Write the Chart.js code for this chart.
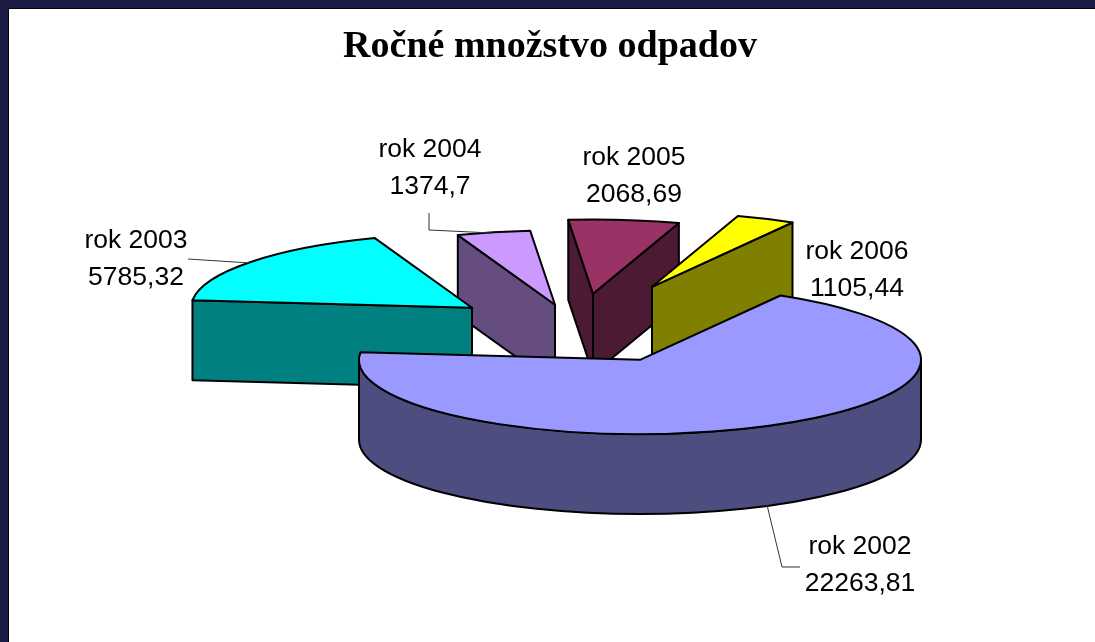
<!DOCTYPE html>
<html>
<head>
<meta charset="utf-8">
<title>Ročné množstvo odpadov</title>
<script src="https://cdn.jsdelivr.net/npm/chart.js@4"></script>
<style>
  html, body { margin: 0; padding: 0; width: 1095px; height: 642px; overflow: hidden; background: #1c1c44; }
  #sheet { position: absolute; left: 8px; top: 8px; right: 0; bottom: 0; background: #fff; border-left: 1px solid #000; border-top: 1px solid #000; }
  #wastePie { position: absolute; left: 0; top: 0; }
</style>
</head>
<body>
<div id="sheet"></div>
<canvas id="wastePie" width="1095" height="642"></canvas>
<script>
const titleText = "Ročné množstvo odpadov";
const categories = ["rok 2002", "rok 2003", "rok 2004", "rok 2005", "rok 2006"];
const wasteValues = [22263.81, 5785.32, 1374.7, 2068.69, 1105.44];

// colours of the top faces and the side walls
const topColors = ["#9999ff", "#00ffff", "#cc99ff", "#993366", "#ffff00"];
const sideColors = ["#4d4d80", "#008080", "#664d80", "#4d1a33", "#808000"];

// how far each slice is pulled out of the chart centre
const explodeX = [90, -78, 5, 43, 102];
const explodeY = [25, -27, -30, -41, -48];

// where the data labels sit and the leader line going to the slice
const labelX = [860, 136, 430, 634, 857];
const labelY = [545, 239, 148, 156, 250];
const leaders = [
  [[767, 505], [782, 567], [800, 567]],
  [[188, 259], [250, 263]],
  [[429, 213], [429, 230], [492, 233]],
  [],
  [],
];

// back slices first, the big one has to end up in front
const drawOrder = [2, 3, 4, 1, 0];

const pieRadius = 281;
const squash = 74 / 280;
const depth = 80;

function wall(ctx, x, y, angle, color) {
  const ox = x + Math.cos(angle) * pieRadius;
  const oy = y + Math.sin(angle) * pieRadius * squash;
  ctx.beginPath();
  ctx.moveTo(x, y);
  ctx.lineTo(ox, oy);
  ctx.lineTo(ox, oy + depth);
  ctx.lineTo(x, y + depth);
  ctx.closePath();
  ctx.fillStyle = color;
  ctx.fill();
  ctx.stroke();
}

function rim(ctx, x, y, from, to, color) {
  const ry = pieRadius * squash;
  ctx.beginPath();
  ctx.ellipse(x, y, pieRadius, ry, 0, from, to);
  ctx.ellipse(x, y + depth, pieRadius, ry, 0, to, from, true);
  ctx.closePath();
  ctx.fillStyle = color;
  ctx.fill();
  ctx.stroke();
}

const pie3d = {
  id: "pie3d",
  beforeDatasetsDraw(chart) {
    const ctx = chart.ctx;
    const arcs = chart.getDatasetMeta(0).data;
    ctx.save();
    ctx.strokeStyle = "#000";
    ctx.lineWidth = 2;
    ctx.lineJoin = "round";

    drawOrder.forEach((i) => {
      const arc = arcs[i];
      const x = arc.x + explodeX[i];
      const y = arc.y + explodeY[i];
      const start = arc.startAngle;
      const end = arc.endAngle;

      // only the sides turned to the viewer
      if (Math.cos(start) < 0) wall(ctx, x, y, start, sideColors[i]);
      if (Math.cos(end) > 0) wall(ctx, x, y, end, sideColors[i]);
      for (let k = -1; k <= 1; k++) {
        const from = Math.max(start, k * 2 * Math.PI);
        const to = Math.min(end, k * 2 * Math.PI + Math.PI);
        if (to > from) rim(ctx, x, y, from, to, sideColors[i]);
      }

      // top face comes from the library's arc, just flattened
      ctx.save();
      ctx.translate(x, y);
      ctx.scale(1, squash);
      ctx.translate(-arc.x, -arc.y);
      arc.draw(ctx);
      ctx.restore();

      ctx.beginPath();
      ctx.moveTo(x, y);
      ctx.ellipse(x, y, pieRadius, pieRadius * squash, 0, start, end);
      ctx.closePath();
      ctx.stroke();
    });

    // leader lines
    ctx.strokeStyle = "#333";
    ctx.lineWidth = 1;
    leaders.forEach((points) => {
      if (!points.length) return;
      ctx.beginPath();
      points.forEach((p, n) => (n ? ctx.lineTo(p[0], p[1]) : ctx.moveTo(p[0], p[1])));
      ctx.stroke();
    });

    // data labels
    ctx.fillStyle = "#000";
    ctx.font = "26.5px 'Liberation Sans'";
    ctx.textAlign = "center";
    ctx.textBaseline = "middle";
    categories.forEach((name, i) => {
      ctx.fillText(name, labelX[i], labelY[i] + 2);
      ctx.fillText(String(wasteValues[i]).replace(".", ","), labelX[i], labelY[i] + 39);
    });
    ctx.restore();
    return false;
  },
};

new Chart(document.getElementById("wastePie").getContext("2d"), {
  type: "pie",
  data: {
    labels: categories,
    datasets: [
      {
        data: wasteValues,
        backgroundColor: topColors,
        borderWidth: 0,
      },
    ],
  },
  options: {
    responsive: false,
    animation: false,
    rotation: 30,
    radius: pieRadius,
    layout: { padding: { left: 5, bottom: 42 } },
    events: [],
    plugins: {
      legend: { display: false },
      tooltip: { enabled: false },
      title: {
        display: true,
        text: titleText,
        color: "#000",
        font: { family: "'Liberation Serif'", size: 38, weight: "bold" },
        padding: { top: 24, bottom: 0 },
      },
    },
  },
  plugins: [pie3d],
});
</script>
</body>
</html>
